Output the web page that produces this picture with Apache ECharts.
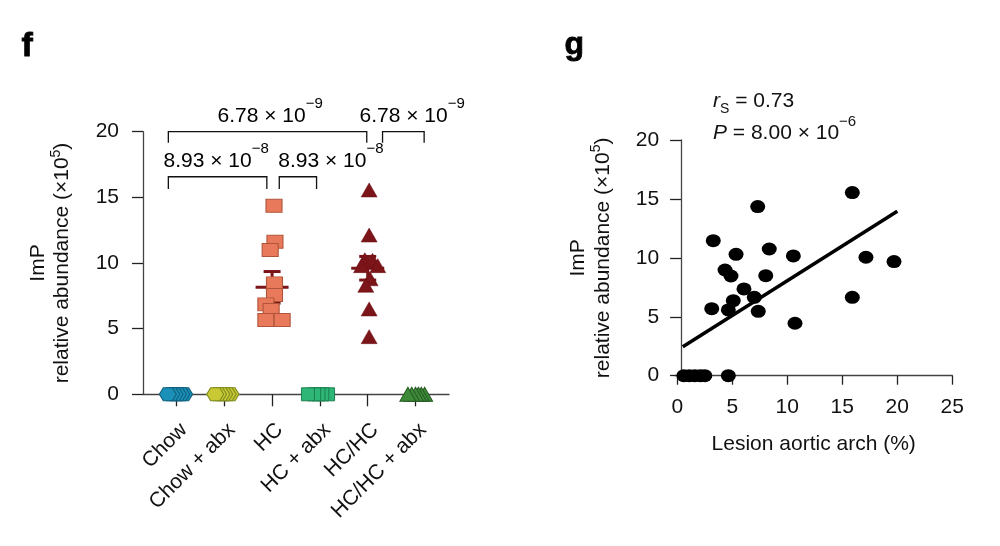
<!DOCTYPE html>
<html><head><meta charset="utf-8">
<script src="https://cdn.jsdelivr.net/npm/echarts@6/dist/echarts.min.js"></script>
<style>html,body{margin:0;padding:0;background:#fff}#c{width:1000px;height:546px}</style>
</head><body><div id="c"></div>
<script>
// ---------- DATA (panel f) ----------
const categories = ['Chow', 'Chow + abx', 'HC', 'HC + abx', 'HC/HC', 'HC/HC + abx'];
const yTicksF = [0, 5, 10, 15, 20];
const chowValues = [0, 0, 0, 0, 0, 0];
const chowAbxValues = [0, 0, 0, 0, 0, 0];
const hcValues = [14.36, 11.62, 10.99, 8.45, 7.56, 6.85, 6.42, 5.66, 5.66];
const hcAbxValues = [0, 0, 0, 0, 0];
const hchcValues = [15.56, 12.13, 10.25, 10.2, 9.8, 9.8, 8.8, 8.3, 6.5, 4.39];
const hchcAbxValues = [0, 0, 0, 0, 0, 0];
const groupMeans = [null, null, 8.15, null, 9.6, null];
const groupSems = [null, null, 1.2, null, 0.9, null];
const pValueTexts = ['6.78 × 10', '6.78 × 10', '8.93 × 10', '8.93 × 10'];
const pValueExps = ['−9', '−9', '−8', '−8'];

// ---------- DATA (panel g) ----------
const lesionArch = [3.27, 3.13, 4.64, 5.09, 4.34, 4.88, 5.34, 6.06, 7.0, 7.36, 7.31, 8.04, 8.36, 10.55, 10.7, 15.91, 15.91, 17.15, 19.7, 0.6, 1.1, 1.6, 2.1, 2.5, 4.64];
const impAbundance = [11.46, 5.69, 5.58, 6.37, 8.97, 8.46, 10.3, 7.36, 6.65, 5.46, 14.35, 8.49, 10.75, 10.16, 4.45, 15.54, 6.65, 10.05, 9.68, 0, 0, 0, 0, 0, 0];
const trendLesion = [0.5, 20];
const trendImp = [2.45, 13.95];
const xTicksG = [0, 5, 10, 15, 20, 25];
const yTicksG = [0, 5, 10, 15, 20];
const rsText = '0.73';
const pCorrText = '8.00 × 10';
const pCorrExp = '−6';

// ---------- LAYOUT (display offsets, not data) ----------
const jitter = {
  chow: [0.16, 0.1, 0.03, -0.04, -0.11, -0.18],
  chowAbx: [0.13, 0.07, 0.0, -0.06, -0.13, -0.19],
  hc: [0.04, 0.06, -0.04, 0.05, 0.05, -0.13, -0.02, -0.13, 0.21],
  hcAbx: [0.17, 0.05, -0.03, -0.12, -0.25],
  hchc: [0.03, 0.03, -0.06, 0.1, -0.13, 0.21, 0.05, -0.04, 0.03, 0.03],
  hchcAbx: [0.19, 0.12, 0.06, 0.0, -0.08, -0.16]
};
// bracket geometry: [from, to, level, drop, labelX]
const brackets = [
  [0.83, 4.98, 20, 0.84, 2.96],
  [5.31, 6.18, 20, 0.84, 5.93],
  [0.83, 2.89, 16.57, 0.93, 1.83],
  [3.15, 3.93, 16.57, 0.93, 4.23]
];

const FONT = '"Liberation Sans", Arial, Helvetica, sans-serif';
const FS = 21;
const AX = '#444';
const hexPath = 'path://M0,6.5 L4,0 L13,0 L17,6.5 L13,13 L4,13 Z';

function pts(values, pos, jit) { return values.map((v, i) => [pos + jit[i], v]); }

const supRich = {
  m: { fontSize: FS, fontFamily: FONT, color: '#111', lineHeight: 30, verticalAlign: 'bottom' },
  s: { fontSize: 15, fontFamily: FONT, color: '#111', lineHeight: 30, verticalAlign: 'top' }
};

const chart = echarts.init(document.getElementById('c'));
const option = {
  animation: false,
  backgroundColor: '#fff',
  textStyle: { fontFamily: FONT },
  grid: [
    { left: 143, top: 131.7, width: 306, height: 262.6 },
    { left: 675.1, top: 140, width: 277.2, height: 235.7 }
  ],
  xAxis: [
    {
      gridIndex: 0, type: 'value', min: 0.3, max: 6.7,
      splitLine: { show: false },
      axisLine: { show: true, onZero: false, lineStyle: { color: AX, width: 1.3 } },
      axisTick: { show: true, length: 12, customValues: [1, 2, 3, 4, 5, 6], lineStyle: { color: '#222', width: 1.3 } },
      axisLabel: { customValues: [1, 2, 3, 4, 5, 6], rotate: 45, margin: 25, verticalAlign: 'top', fontSize: FS, color: '#111', fontFamily: FONT,
        formatter: v => categories[Math.round(v) - 1] }
    },
    {
      gridIndex: 1, type: 'value', min: -0.2, max: 25,
      splitLine: { show: false },
      axisLine: { show: true, onZero: false, lineStyle: { color: AX, width: 1.3 } },
      axisTick: { show: true, length: 9, customValues: xTicksG, lineStyle: { color: '#222', width: 1.3 } },
      axisLabel: { customValues: xTicksG, margin: 21, fontSize: FS, color: '#111', fontFamily: FONT },
      name: 'Lesion aortic arch (%)', nameLocation: 'middle', nameGap: 58,
      nameTextStyle: { fontSize: FS, color: '#111', fontFamily: FONT, verticalAlign: 'top' }
    }
  ],
  yAxis: [
    {
      gridIndex: 0, type: 'value', min: 0, max: 20, interval: 5,
      splitLine: { show: false },
      axisLine: { show: true, lineStyle: { color: AX, width: 1.3 } },
      axisTick: { show: true, length: 11, lineStyle: { color: '#222', width: 1.3 } },
      axisLabel: { margin: 24, fontSize: FS, color: '#111', fontFamily: FONT },
      name: '{t|ImP}\n{t|relative abundance (×10}{u|5}{t|)}',
      nameLocation: 'middle', nameGap: 70, nameRotate: 90,
      nameTextStyle: { align: 'center', rich: {
        t: { fontSize: FS, fontFamily: FONT, color: '#111', lineHeight: 24, verticalAlign: 'bottom' },
        u: { fontSize: 14, fontFamily: FONT, color: '#111', lineHeight: 24, verticalAlign: 'top' } } }
    },
    {
      gridIndex: 1, type: 'value', min: 0, max: 20, interval: 5, offset: -6,
      splitLine: { show: false },
      axisLine: { show: true, onZero: false, lineStyle: { color: AX, width: 1.3 } },
      axisTick: { show: true, length: 11, lineStyle: { color: '#222', width: 1.3 } },
      axisLabel: { margin: 22, fontSize: FS, color: '#111', fontFamily: FONT },
      name: '{t|ImP}\n{t|relative abundance (×10}{u|5}{t|)}',
      nameLocation: 'middle', nameGap: 67, nameRotate: 90,
      nameTextStyle: { align: 'center', rich: {
        t: { fontSize: FS, fontFamily: FONT, color: '#111', lineHeight: 25, verticalAlign: 'bottom' },
        u: { fontSize: 14, fontFamily: FONT, color: '#111', lineHeight: 25, verticalAlign: 'top' } } }
    }
  ],
  graphic: [
    { type: 'text', left: 21, top: 29, style: { text: 'f', font: '900 34px ' + FONT, fill: '#000', stroke: '#000', lineWidth: 0.8 } },
    { type: 'text', left: 564, top: 29, style: { text: 'g', font: '900 32px ' + FONT, fill: '#000', stroke: '#000', lineWidth: 0.8 } },
    { type: 'text', x: 713, y: 101, style: { text: '{i|r}{b|S}{m| = ' + rsText + '}', verticalAlign: 'middle',
      rich: {
        i: { fontSize: FS, fontFamily: FONT, fontStyle: 'italic', fill: '#111', lineHeight: 30, verticalAlign: 'middle' },
        b: { fontSize: 14, fontFamily: FONT, fill: '#111', lineHeight: 30, verticalAlign: 'bottom' },
        m: { fontSize: FS, fontFamily: FONT, fill: '#111', lineHeight: 30, verticalAlign: 'middle' } } } },
    { type: 'text', x: 713, y: 129, style: { text: '{i|P}{m| = ' + pCorrText + '}{s|' + pCorrExp + '}', verticalAlign: 'middle',
      rich: {
        i: { fontSize: FS, fontFamily: FONT, fontStyle: 'italic', fill: '#111', lineHeight: 29, verticalAlign: 'bottom' },
        m: { fontSize: FS, fontFamily: FONT, fill: '#111', lineHeight: 29, verticalAlign: 'bottom' },
        s: { fontSize: 15, fontFamily: FONT, fill: '#111', lineHeight: 29, verticalAlign: 'top' } } } }
  ],
  series: [
    {
      type: 'custom', xAxisIndex: 0, yAxisIndex: 0, z: 1, clip: false,
      data: groupMeans.map((m, i) => [i + 1, m, groupSems[i]]).filter(d => d[1] != null),
      renderItem: (params, api) => {
        const x = api.value(0), m = api.value(1), s = api.value(2);
        const c = api.coord([x, m]), t = api.coord([x, m + s]), b = api.coord([x, m - s]);
        const st = { stroke: '#7a1418', lineWidth: 3 };
        return { type: 'group', children: [
          { type: 'line', shape: { x1: c[0] - 16.5, y1: c[1], x2: c[0] + 16.5, y2: c[1] }, style: st },
          { type: 'line', shape: { x1: t[0], y1: t[1], x2: b[0], y2: b[1] }, style: st },
          { type: 'line', shape: { x1: t[0] - 8.5, y1: t[1], x2: t[0] + 8.5, y2: t[1] }, style: st },
          { type: 'line', shape: { x1: b[0] - 8.5, y1: b[1], x2: b[0] + 8.5, y2: b[1] }, style: st }
        ] };
      }
    },
    { type: 'scatter', name: categories[0], xAxisIndex: 0, yAxisIndex: 0, z: 3, symbol: hexPath, symbolSize: [17, 13],
      itemStyle: { color: '#1b91b9', borderColor: '#10607e', borderWidth: 1, opacity: 1 }, data: pts(chowValues, 1, jitter.chow) },
    { type: 'scatter', name: categories[1], xAxisIndex: 0, yAxisIndex: 0, z: 3, symbol: hexPath, symbolSize: [17, 13],
      itemStyle: { color: '#c9c935', borderColor: '#7f8c1f', borderWidth: 1, opacity: 1 }, data: pts(chowAbxValues, 2, jitter.chowAbx) },
    { type: 'scatter', name: categories[2], xAxisIndex: 0, yAxisIndex: 0, z: 3, symbol: 'rect', symbolSize: [16, 13],
      itemStyle: { color: '#e8795b', borderColor: '#b0553a', borderWidth: 1, opacity: 1 }, data: pts(hcValues, 3, jitter.hc) },
    { type: 'scatter', name: categories[3], xAxisIndex: 0, yAxisIndex: 0, z: 3, symbol: 'rect', symbolSize: [13, 13],
      itemStyle: { color: '#2eb677', borderColor: '#1c7f4f', borderWidth: 1, opacity: 1 }, data: pts(hcAbxValues, 4, jitter.hcAbx) },
    { type: 'scatter', name: categories[4], xAxisIndex: 0, yAxisIndex: 0, z: 3, symbol: 'triangle', symbolSize: [16, 14],
      itemStyle: { color: '#7c1519', borderColor: '#6a1014', borderWidth: 0.5, opacity: 1 }, data: pts(hchcValues, 5, jitter.hchc) },
    { type: 'scatter', name: categories[5], xAxisIndex: 0, yAxisIndex: 0, z: 3, symbol: 'triangle', symbolSize: [16, 14],
      itemStyle: { color: '#3d8a39', borderColor: '#285c25', borderWidth: 1, opacity: 1 }, data: pts(hchcAbxValues, 6, jitter.hchcAbx) },
    {
      type: 'custom', xAxisIndex: 0, yAxisIndex: 0, z: 4, clip: false,
      data: brackets,
      renderItem: (params, api) => {
        const x1 = api.value(0), x2 = api.value(1), lv = api.value(2), dr = api.value(3), lx = api.value(4);
        const a = api.coord([x1, lv - dr]), b = api.coord([x1, lv]), c = api.coord([x2, lv]), d = api.coord([x2, lv - dr]);
        const t = api.coord([lx, lv]);
        const i = params.dataIndex;
        return { type: 'group', children: [
          { type: 'polyline', shape: { points: [a, b, c, d] }, style: { stroke: '#111', lineWidth: 1.3, fill: null } },
          { type: 'text', x: t[0], y: t[1] - 20, style: {
            text: '{m|' + pValueTexts[i] + '}{s|' + pValueExps[i] + '}', align: 'center', verticalAlign: 'middle',
            rich: supRich } }
        ] };
      }
    },
    { type: 'scatter', xAxisIndex: 1, yAxisIndex: 1, z: 3, symbol: 'circle', symbolSize: [15, 13],
      itemStyle: { color: '#000', opacity: 1 }, data: lesionArch.map((x, i) => [x, impAbundance[i]]) },
    { type: 'line', xAxisIndex: 1, yAxisIndex: 1, z: 4, symbol: 'none',
      lineStyle: { color: '#000', width: 3.5 }, data: trendLesion.map((x, i) => [x, trendImp[i]]) }
  ]
};
chart.setOption(option);
</script></body></html>
